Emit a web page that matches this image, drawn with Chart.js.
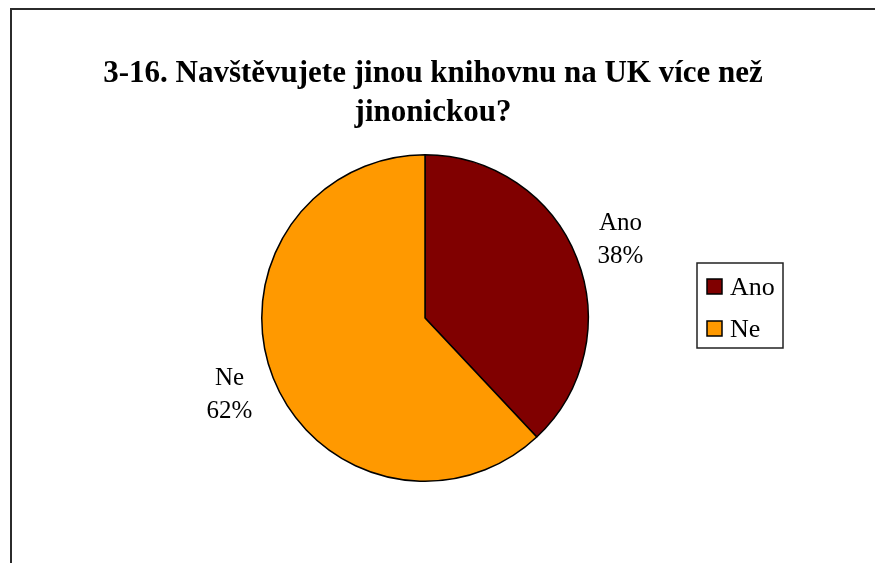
<!DOCTYPE html>
<html>
<head>
<meta charset="utf-8">
<script src="https://cdn.jsdelivr.net/npm/chart.js@4/dist/chart.umd.min.js"></script>
<style>
  html, body { margin: 0; padding: 0; background: #fff; }
  #wrap { width: 875px; height: 563px; }
</style>
</head>
<body>
<div id="wrap"><canvas id="pieChart" width="875" height="563"></canvas></div>
<script>
// Survey answers
const answers = ['Ano', 'Ne'];
const shares = [38, 62];
const sliceColors = ['#800000', '#FF9900'];
const titleLines = ['3-16. Navštěvujete jinou knihovnu na UK více než', 'jinonickou?'];

const serif = `'Liberation Serif', 'Times New Roman', serif`;

// frame line along the top and left edge, plus the two-line heading
const framePlugin = {
  id: 'frame',
  beforeDraw(chart) {
    const ctx = chart.ctx;
    ctx.save();
    ctx.strokeStyle = '#2b2b2b';
    ctx.lineWidth = 2;
    ctx.beginPath();
    ctx.moveTo(875, 9);
    ctx.lineTo(11, 9);
    ctx.lineTo(11, 563);
    ctx.stroke();

    ctx.fillStyle = '#000';
    ctx.font = `bold 31px ${serif}`;
    ctx.textAlign = 'center';
    ctx.textBaseline = 'alphabetic';
    titleLines.forEach((line, i) => ctx.fillText(line, 433, 82 + i * 39));
    ctx.restore();
  },
};

// name + percent next to each slice
const sliceLabels = {
  id: 'sliceLabels',
  afterDatasetsDraw(chart) {
    const ctx = chart.ctx;
    const total = shares.reduce((a, b) => a + b, 0);
    const arcs = chart.getDatasetMeta(0).data;
    ctx.save();
    ctx.font = `25px ${serif}`;
    ctx.fillStyle = '#000';
    ctx.textAlign = 'center';
    ctx.textBaseline = 'middle';
    arcs.forEach((arc, i) => {
      const mid = (arc.startAngle + arc.endAngle) / 2;
      const d = arc.outerRadius + 47;
      const x = arc.x + d * Math.cos(mid);
      const y = arc.y + d * Math.sin(mid);
      ctx.fillText(answers[i], x, y - 17);
      ctx.fillText(Math.round((shares[i] / total) * 100) + '%', x, y + 16);
    });
    ctx.restore();
  },
};

// boxed legend on the right
const boxLegend = {
  id: 'boxLegend',
  afterDraw(chart) {
    const ctx = chart.ctx;
    const left = 697, top = 263, w = 86, h = 85;
    ctx.save();
    ctx.strokeStyle = '#222';
    ctx.lineWidth = 1.5;
    ctx.strokeRect(left, top, w, h);
    ctx.font = `26px ${serif}`;
    ctx.textBaseline = 'middle';
    answers.forEach((name, i) => {
      const cy = top + 24 + i * 42;
      ctx.fillStyle = sliceColors[i];
      ctx.fillRect(707, cy - 8, 15, 15);
      ctx.strokeStyle = '#000';
      ctx.lineWidth = 1.5;
      ctx.strokeRect(707, cy - 8, 15, 15);
      ctx.fillStyle = '#000';
      ctx.fillText(name, 730, cy + 1);
    });
    ctx.restore();
  },
};

new Chart('pieChart', {
  type: 'pie',
  data: {
    labels: answers,
    datasets: [
      {
        data: shares,
        backgroundColor: sliceColors,
        borderColor: '#000',
        borderWidth: 1.5,
      },
    ],
  },
  options: {
    responsive: false,
    animation: false,
    layout: {
      padding: { left: 261, right: 286, top: 154, bottom: 81 },
    },
    plugins: {
      legend: { display: false },
      tooltip: { enabled: false },
      title: { display: false },
    },
  },
  plugins: [framePlugin, sliceLabels, boxLegend],
});
</script>
</body>
</html>
